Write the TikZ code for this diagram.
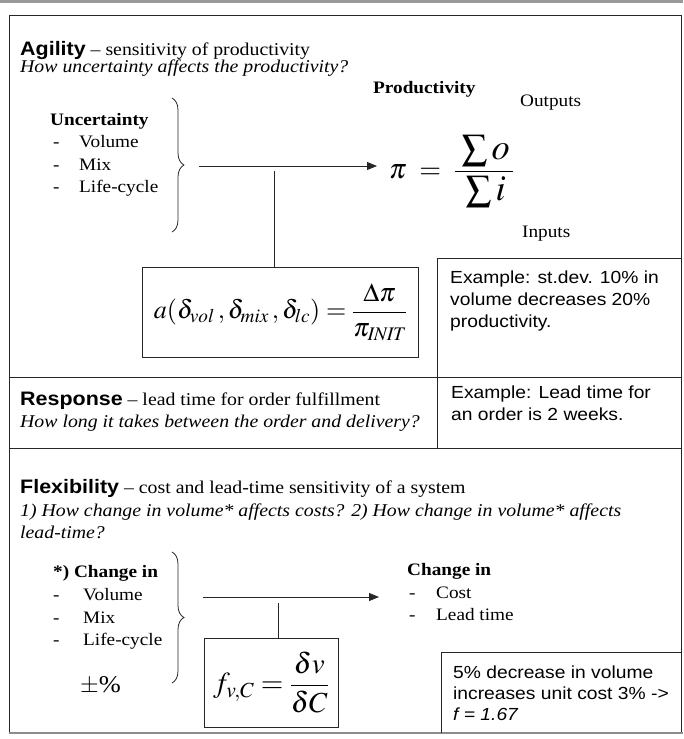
\documentclass[tikz,border=0pt]{standalone}
\usepackage{amsmath}
\usepackage{graphicx}
\usepackage{mathptmx}
\usepackage[no-math]{fontspec}
\setmainfont{Liberation Serif}[FakeStretch=1.1]
\newfontfamily\arial{Liberation Sans}[FakeStretch=1.1]
\usetikzlibrary{decorations.pathreplacing,arrows.meta}
\tikzset{
  frameline/.style={draw=black!85, line width=0.9pt},
  conn/.style={draw=black!85, line width=0.8pt},
  arr/.style={conn, -{Triangle[length=10pt,width=8pt]}},
  bracestyle/.style={draw=black!85, line width=0.8pt, decorate, decoration={brace, amplitude=12pt}},
  body/.style={anchor=base west, inner sep=0pt, font=\fontsize{18}{21}\selectfont},
  bodyit/.style={anchor=base west, inner sep=0pt, font=\itshape\fontsize{18}{21}\selectfont},
  lst/.style={anchor=base west, inner sep=0pt, font=\fontsize{17.5}{20}\selectfont},
  lstb/.style={anchor=base west, inner sep=0pt, font=\bfseries\fontsize{17.5}{20}\selectfont},
  ex/.style={anchor=base west, inner sep=0pt, font=\arial\fontsize{17.5}{20}\selectfont},
  fbox/.style={draw=black!85, line width=0.8pt, inner sep=0pt},
}
\newcommand{\headf}{\arial\bfseries\fontsize{19.5}{21}\selectfont}
\begin{document}
\begin{tikzpicture}[x=1pt,y=-1pt]
\useasboundingbox (0,0) rectangle (683,739);
\fill[black!40] (0,0) rectangle (683,3);
% frame and separators
\draw[frameline] (9,15) rectangle (681,733);
\draw[frameline] (9,377) -- (681,377);
\draw[frameline] (9,448) -- (681,448);
\draw[black!45, line width=2pt] (9,733) -- (683,733);
% ---------- Agility ----------
\node[body] (agi) at (20,55) {{\headf Agility} -- sensitivity of productivity};
\node[bodyit] (agiq) at (20,72) {How uncertainty affects the productivity?};
\node[lstb] (unc) at (50,125) {Uncertainty};
\node[lst] (d1) at (53,147) {-};
\node[lst] (u1) at (79,147) {Volume};
\node[lst] (d2) at (53,170) {-};
\node[lst] (u2) at (79,170) {Mix};
\node[lst] (d3) at (53,192) {-};
\node[lst] (u3) at (79,192) {Life-cycle};
\draw[bracestyle] (172,98) -- (172,232);
\node[lstb] (prod) at (373,93) {Productivity};
\node[lst] (outp) at (520,106) {Outputs};
\node[lst] (inp) at (522,237) {Inputs};
\node[inner sep=0pt, anchor=west, font=\fontsize{28}{32}\selectfont] (pif) at (389,171) {$\pi \;=\; \dfrac{\hspace{7pt}\scalebox{1.3}{$\sum o$}\hspace{3pt}}{\hspace{7pt}\scalebox{1.3}{$\sum i$}\hspace{3pt}}$};
\coordinate (a1s) at (199,166);
\coordinate (a1e) at (377,166);
\draw[arr] (a1s) -- (a1e);
\node[fbox, minimum width=276pt, minimum height=90pt, font=\fontsize{26}{30}\selectfont] (abox) at (280.5,312) {$a(\delta_{vol}\,,\delta_{mix}\,,\delta_{lc}) = \dfrac{\Delta\pi}{\pi_{\mathit{INIT}}}$};
\coordinate (v1) at (274,171);
\draw[conn] (v1) -- (v1 |- abox.north);
\coordinate (e1a) at (681,258);
\coordinate (e1b) at (437,258);
\coordinate (e1c) at (437,448);
\draw[frameline] (e1a) -- (e1b) -- (e1c);
\node[ex] (ex1) at (450,283) {Example: st.dev. 10\% in};
\node[ex] (ex2) at (450,305) {volume decreases 20\%};
\node[ex] (ex3) at (450,327) {productivity.};
% ---------- Response ----------
\node[body] (resp) at (20,405) {{\headf Response} -- lead time for order fulfillment};
\node[bodyit] (respq) at (20,427) {How long it takes between the order and delivery?};
\node[ex] (ex4) at (451,398) {Example: Lead time for};
\node[ex] (ex5) at (451,420) {an order is 2 weeks.};
% ---------- Flexibility ----------
\node[body] (flx) at (20,493) {{\headf Flexibility} -- cost and lead-time sensitivity of a system};
\node[bodyit] (flxq1) at (20,516) {1) How change in volume* affects costs? 2) How change in volume* affects};
\node[bodyit] (flxq2) at (20,538) {lead-time?};
\node[lstb] (chg) at (53,577) {*) Change in};
\node[lst] (c1d) at (53,600) {-};
\node[lst] (c1) at (83,600) {Volume};
\node[lst] (c2d) at (53,623) {-};
\node[lst] (c2) at (83,623) {Mix};
\node[lst] (c3d) at (53,645) {-};
\node[lst] (c3) at (83,645) {Life-cycle};
\node[anchor=base west, inner sep=0pt, font=\fontsize{24}{26}\selectfont] (pm) at (80,692) {$\pm$\%};
\draw[bracestyle] (172,552) -- (172,683);
\coordinate (a2s) at (203,597);
\coordinate (a2e) at (379,597);
\draw[arr] (a2s) -- (a2e);
\node[lstb] (chgo) at (407,575) {Change in};
\node[lst] (o1d) at (409,598) {-};
\node[lst] (o1) at (436,598) {Cost};
\node[lst] (o2d) at (409,620) {-};
\node[lst] (o2) at (436,620) {Lead time};
\node[fbox, minimum width=134pt, minimum height=89pt, font=\fontsize{29}{32}\selectfont] (fboxn) at (271,682.5) {$f_{v,C} = \dfrac{\delta v}{\delta C}$};
\coordinate (v2) at (278,603);
\draw[conn] (v2) -- (v2 |- fboxn.north);
\coordinate (e2a) at (681,652);
\coordinate (e2b) at (441,652);
\coordinate (e2c) at (441,733);
\draw[frameline] (e2a) -- (e2b) -- (e2c);
\node[ex] (ex6) at (453,678) {5\% decrease in volume};
\node[ex] (ex7) at (453,699) {increases unit cost 3\% -{}>};
\node[ex, font=\arial\itshape\fontsize{17.5}{20}\selectfont] (ex8) at (453,720) {f = 1.67};
\end{tikzpicture}
\end{document}
